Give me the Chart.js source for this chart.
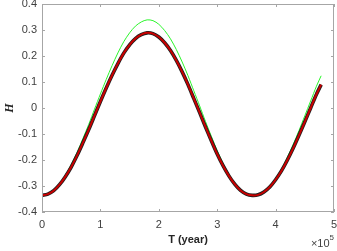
<!DOCTYPE html>
<html><head><meta charset="utf-8">
<script src="https://cdn.jsdelivr.net/npm/chart.js@4/dist/chart.umd.min.js"></script>
<style>html,body{margin:0;padding:0;background:#fff}#w{width:337px;height:251px;position:relative}</style>
</head><body><div id="w"><canvas id="c" width="337" height="251"></canvas></div>
<script>
// time (years)
const T = [0,10000,20000,30000,40000,50000,60000,70000,80000,90000,
  100000,110000,120000,130000,140000,150000,160000,170000,180000,190000,
  200000,210000,220000,230000,240000,250000,260000,270000,280000,290000,
  300000,310000,320000,330000,340000,350000,360000,370000,380000,390000,
  400000,410000,420000,430000,440000,450000,460000,470000,478000];
// black (markers)
const H_black = [-0.336,-0.331,-0.318,-0.295,-0.264,-0.227,-0.183,-0.134,-0.083,-0.029,
  0.025,0.077,0.126,0.171,0.211,0.243,0.267,0.282,0.289,0.286,
  0.273,0.251,0.221,0.183,0.139,0.090,0.036,-0.018,-0.073,-0.126,
  -0.177,-0.222,-0.261,-0.293,-0.317,-0.331,-0.336,-0.334,-0.323,-0.304,
  -0.276,-0.242,-0.201,-0.155,-0.105,-0.053,0.000,0.053,0.090];
// red line
const H_red = [-0.336,-0.331,-0.318,-0.295,-0.264,-0.227,-0.183,-0.134,-0.083,-0.029,
  0.025,0.077,0.126,0.171,0.211,0.243,0.267,0.282,0.289,0.286,
  0.273,0.251,0.221,0.183,0.139,0.090,0.036,-0.018,-0.073,-0.126,
  -0.177,-0.222,-0.261,-0.293,-0.317,-0.331,-0.336,-0.334,-0.323,-0.304,
  -0.276,-0.242,-0.201,-0.155,-0.105,-0.053,0.000,0.053,0.090];
// green line
const H_green = [-0.338,-0.331,-0.317,-0.292,-0.258,-0.218,-0.171,-0.118,-0.063,-0.004,
  0.054,0.110,0.163,0.212,0.255,0.289,0.315,0.331,0.339,0.336,
  0.322,0.298,0.266,0.225,0.177,0.124,0.066,0.008,-0.052,-0.109,
  -0.164,-0.213,-0.255,-0.290,-0.315,-0.331,-0.338,-0.334,-0.322,-0.301,
  -0.271,-0.235,-0.190,-0.141,-0.087,-0.030,0.027,0.084,0.124];
const xTicks = [0,100000,200000,300000,400000,500000];
const yTicks = [-0.4,-0.3,-0.2,-0.1,0,0.1,0.2,0.3,0.4];

const pts = (ys) => T.map((t,i)=>({x:t,y:ys[i]}));

const AXC = '#a6a6a6';
const FONT = '"Liberation Sans", Arial, sans-serif';
const boxPlugin = {
  id:'box',
  afterDatasetsDraw(chart){
    const {ctx, chartArea:a, scales:{x,y}} = chart;
    ctx.save();
    ctx.strokeStyle = AXC; ctx.lineWidth = 1;
    ctx.strokeRect(a.left+0.5, a.top+0.5, a.right-a.left-1, a.bottom-a.top-1);
    ctx.beginPath();
    xTicks.forEach(v=>{const p=Math.round(x.getPixelForValue(v))+0.5;
      ctx.moveTo(p,a.bottom); ctx.lineTo(p,a.bottom-3);
      ctx.moveTo(p,a.top); ctx.lineTo(p,a.top+3);});
    yTicks.forEach(v=>{const p=Math.round(y.getPixelForValue(v))+0.5;
      ctx.moveTo(a.left,p); ctx.lineTo(a.left+3,p);
      ctx.moveTo(a.right,p); ctx.lineTo(a.right-3,p);});
    ctx.stroke();
    // exponent label
    ctx.fillStyle = '#404040';
    ctx.textBaseline = 'alphabetic';
    ctx.textAlign = 'right';
    ctx.font = '8px ' + FONT;
    const w5 = ctx.measureText('5').width;
    ctx.fillText('5', a.right, 240);
    ctx.font = '11px ' + FONT;
    ctx.fillText('\u00d710', a.right-w5, 247);
    ctx.restore();
  }
};

new Chart(document.getElementById('c'), {
  type:'line',
  data:{datasets:[
    {label:'red', data:pts(H_red), borderColor:'#c80000', borderWidth:2, pointRadius:0, tension:0.3, order:1},
    {label:'black', data:pts(H_black), borderColor:'#1e1e1e', borderWidth:3.6, pointRadius:0, tension:0.3, order:2},
    {label:'green', data:pts(H_green), borderColor:'#2af52a', borderWidth:1, pointRadius:0, tension:0.3, order:3}
  ]},
  options:{
    responsive:false, devicePixelRatio:1, animation:false,
    layout:{padding:{top:4,right:3,left:0,bottom:0}},
    plugins:{legend:{display:false}, tooltip:{enabled:false}},
    scales:{
      x:{type:'linear', min:0, max:500000,
        afterBuildTicks(s){ s.ticks = xTicks.map(v=>({value:v})); },
        afterFit(s){ s.height = 39; s.paddingLeft=0; s.paddingRight=0; },
        grid:{display:false, drawTicks:false}, border:{display:false},
        ticks:{padding:6, color:'#404040', font:{family:FONT, size:11},
          callback:(v)=>String(v/100000), maxRotation:0, autoSkip:false},
        title:{display:true, text:'T (year)', color:'#262626', padding:{top:0,bottom:4},
          font:{family:FONT, size:11, weight:'bold'}}
      },
      y:{type:'linear', min:-0.4, max:0.4,
        afterBuildTicks(s){ s.ticks = yTicks.map(v=>({value:v})); },
        afterFit(s){ s.width = 42; s.paddingTop=0; s.paddingBottom=0; },
        grid:{display:false, drawTicks:false}, border:{display:false},
        ticks:{padding:5, color:'#404040', font:{family:FONT, size:11},
          callback:(v)=>String(Math.round(v*10)/10), autoSkip:false},
        title:{display:true, text:'H', color:'#262626', padding:{top:3,bottom:0},
          font:{family:'"Liberation Serif", serif', size:12, weight:'bold', style:'italic'}}
      }
    }
  },
  plugins:[boxPlugin]
});
</script></body></html>
